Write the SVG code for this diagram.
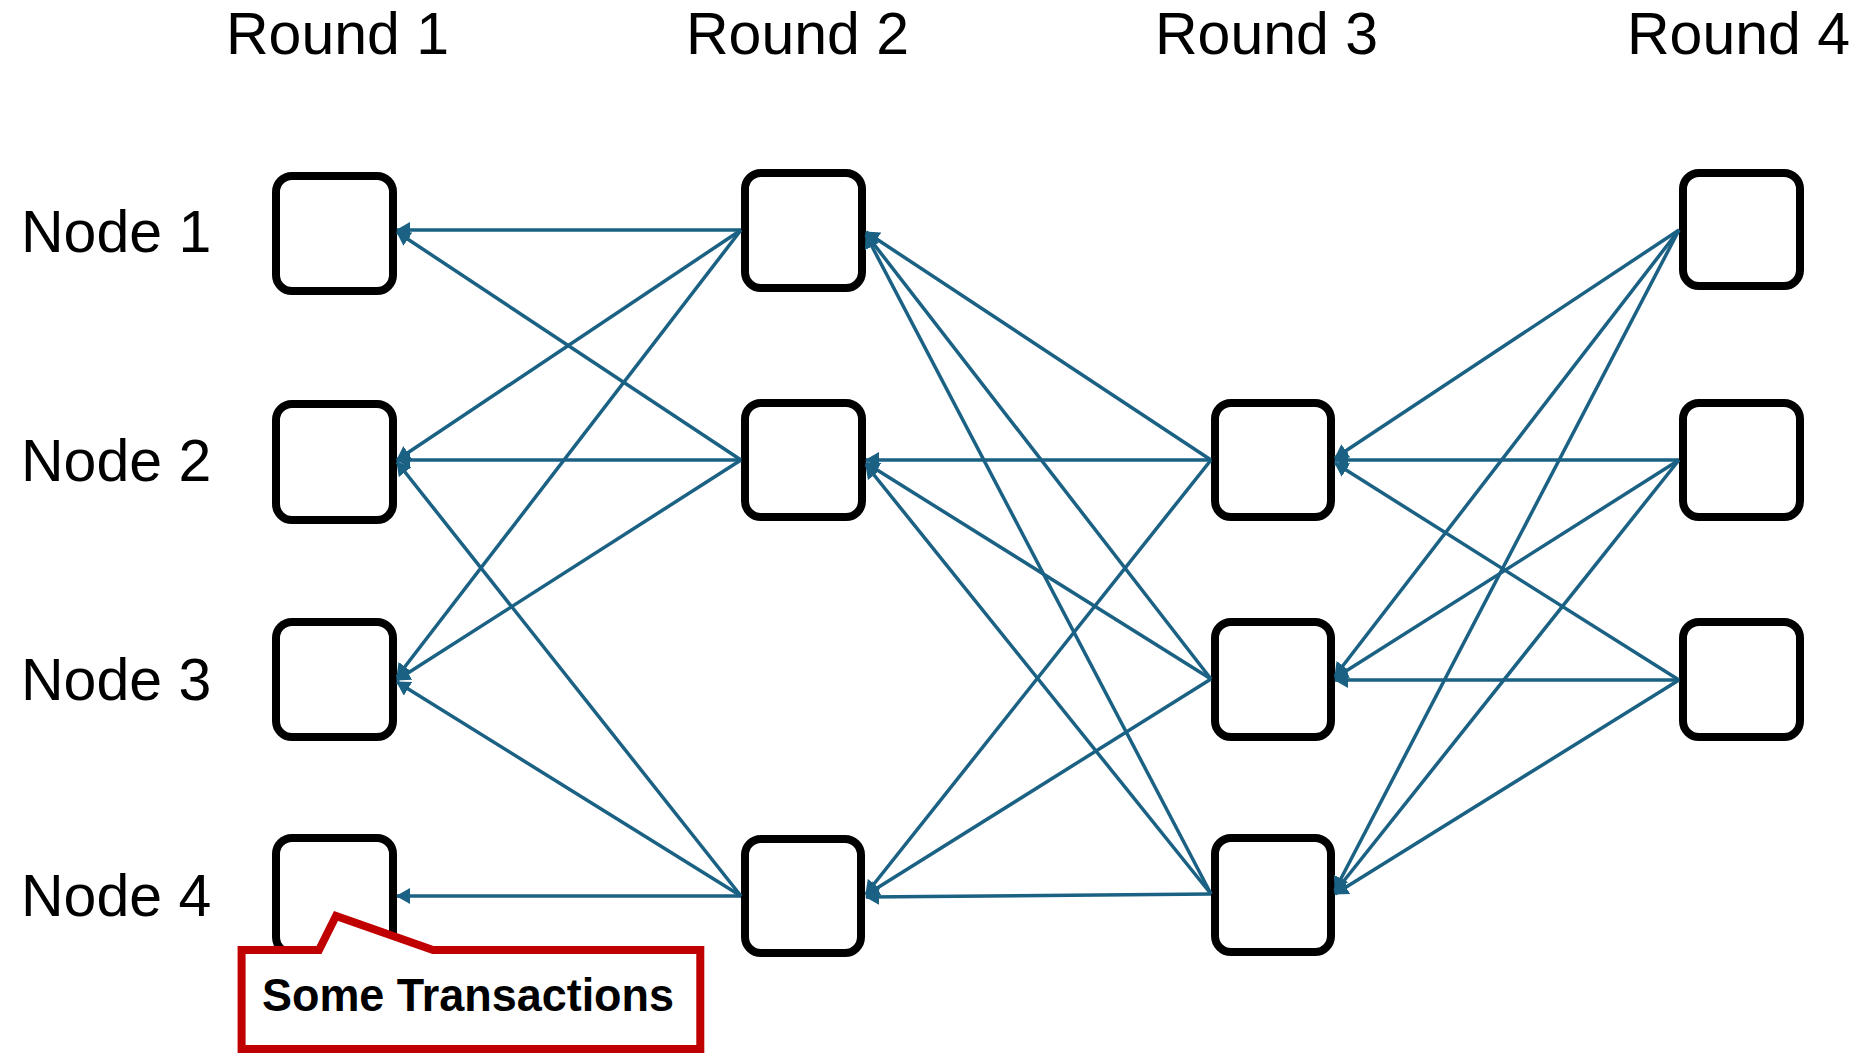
<svg xmlns="http://www.w3.org/2000/svg" width="1862" height="1053" viewBox="0 0 1862 1053">
  <style>
    .lbl { font-family: "Liberation Sans", Arial, sans-serif; font-size: 59px; fill: #000; }
    .box { fill: #fff; stroke: #000; stroke-width: 8; }
    .edge { stroke: #1A6184; stroke-width: 3.5; fill: none; marker-end: url(#arrow); }
    .callout { fill: #fff; stroke: #C00000; stroke-width: 8; stroke-linejoin: miter; }
    .note { font-family: "Liberation Sans", Arial, sans-serif; font-size: 47px; font-weight: bold; fill: #000; }
  </style>
  <defs>
    <marker id="arrow" markerUnits="userSpaceOnUse" markerWidth="14" markerHeight="16" viewBox="0 0 14 16" refX="13" refY="8" orient="auto">
      <path d="M0,0 L14,8 L0,16 z" fill="#1A6184"/>
    </marker>
  </defs>
  <rect width="1862" height="1053" fill="#fff"/>

  <!-- column headings -->
  <g id="headings">
    <text class="lbl" x="226" y="54">Round 1</text>
    <text class="lbl" x="686" y="54">Round 2</text>
    <text class="lbl" x="1155" y="54">Round 3</text>
    <text class="lbl" x="1627" y="54">Round 4</text>
  </g>

  <!-- row labels -->
  <g id="row-labels">
    <text class="lbl" x="21" y="252">Node 1</text>
    <text class="lbl" x="21" y="481">Node 2</text>
    <text class="lbl" x="21" y="700">Node 3</text>
    <text class="lbl" x="21" y="916">Node 4</text>
  </g>

  <!-- round 1 -->
  <g id="r1n1"><rect class="box" x="276" y="176" width="117" height="115" rx="16"/></g>
  <g id="r1n2"><rect class="box" x="276" y="404" width="117" height="116" rx="16"/></g>
  <g id="r1n3"><rect class="box" x="276" y="622" width="117" height="115" rx="16"/></g>
  <g id="r1n4"><rect class="box" x="276" y="838" width="117" height="115" rx="16"/></g>

  <!-- round 2 -->
  <g id="r2n1"><rect class="box" x="745" y="173" width="117" height="115" rx="16"/></g>
  <g id="r2n2"><rect class="box" x="745" y="403" width="117" height="114" rx="16"/></g>
  <g id="r2n4"><rect class="box" x="745" y="839" width="116" height="114" rx="16"/></g>

  <!-- round 3 -->
  <g id="r3n2"><rect class="box" x="1215" y="403" width="116" height="114" rx="16"/></g>
  <g id="r3n3"><rect class="box" x="1215" y="622" width="116" height="115" rx="16"/></g>
  <g id="r3n4"><rect class="box" x="1215" y="838" width="116" height="114" rx="16"/></g>

  <!-- round 4 -->
  <g id="r4n1"><rect class="box" x="1683" y="173" width="117" height="113" rx="16"/></g>
  <g id="r4n2"><rect class="box" x="1683" y="403" width="117" height="114" rx="16"/></g>
  <g id="r4n3"><rect class="box" x="1683" y="622" width="117" height="115" rx="16"/></g>

  <!-- references from each vertex back to vertices of the previous round -->
  <g id="connectors">
    <!-- round 2 to round 1 -->
    <line class="edge" x1="741" y1="230" x2="397" y2="230"/>
    <line class="edge" x1="741" y1="230" x2="397" y2="460"/>
    <line class="edge" x1="741" y1="230" x2="397" y2="677"/>
    <line class="edge" x1="741" y1="460" x2="397" y2="232"/>
    <line class="edge" x1="741" y1="460" x2="397" y2="460"/>
    <line class="edge" x1="741" y1="460" x2="397" y2="680"/>
    <line class="edge" x1="741" y1="896" x2="397" y2="462"/>
    <line class="edge" x1="741" y1="896" x2="397" y2="682"/>
    <line class="edge" x1="741" y1="896" x2="397" y2="896"/>
    <!-- round 3 to round 2 -->
    <line class="edge" x1="1211" y1="460" x2="866" y2="232"/>
    <line class="edge" x1="1211" y1="460" x2="866" y2="460"/>
    <line class="edge" x1="1211" y1="460" x2="866" y2="894"/>
    <line class="edge" x1="1211" y1="679" x2="866" y2="234"/>
    <line class="edge" x1="1211" y1="679" x2="866" y2="463"/>
    <line class="edge" x1="1211" y1="679" x2="866" y2="895"/>
    <line class="edge" x1="1211" y1="894" x2="866" y2="235"/>
    <line class="edge" x1="1211" y1="894" x2="866" y2="465"/>
    <line class="edge" x1="1211" y1="894" x2="866" y2="897"/>
    <!-- round 4 to round 3 -->
    <line class="edge" x1="1679" y1="230" x2="1335" y2="458"/>
    <line class="edge" x1="1679" y1="230" x2="1335" y2="676"/>
    <line class="edge" x1="1679" y1="230" x2="1335" y2="890"/>
    <line class="edge" x1="1679" y1="460" x2="1335" y2="460"/>
    <line class="edge" x1="1679" y1="460" x2="1335" y2="678"/>
    <line class="edge" x1="1679" y1="460" x2="1335" y2="892"/>
    <line class="edge" x1="1679" y1="680" x2="1335" y2="463"/>
    <line class="edge" x1="1679" y1="680" x2="1335" y2="680"/>
    <line class="edge" x1="1679" y1="680" x2="1335" y2="894"/>
  </g>

  <!-- callout on the first vertex of node 4 -->
  <g id="callout">
    <path class="callout" d="M241.6,950 L319,950 L336,916 L433,950 L700.3,950 L700.3,1049 L241.6,1049 Z"/>
    <text class="note" x="262" y="1011" textLength="412" lengthAdjust="spacingAndGlyphs">Some Transactions</text>
  </g>
</svg>
